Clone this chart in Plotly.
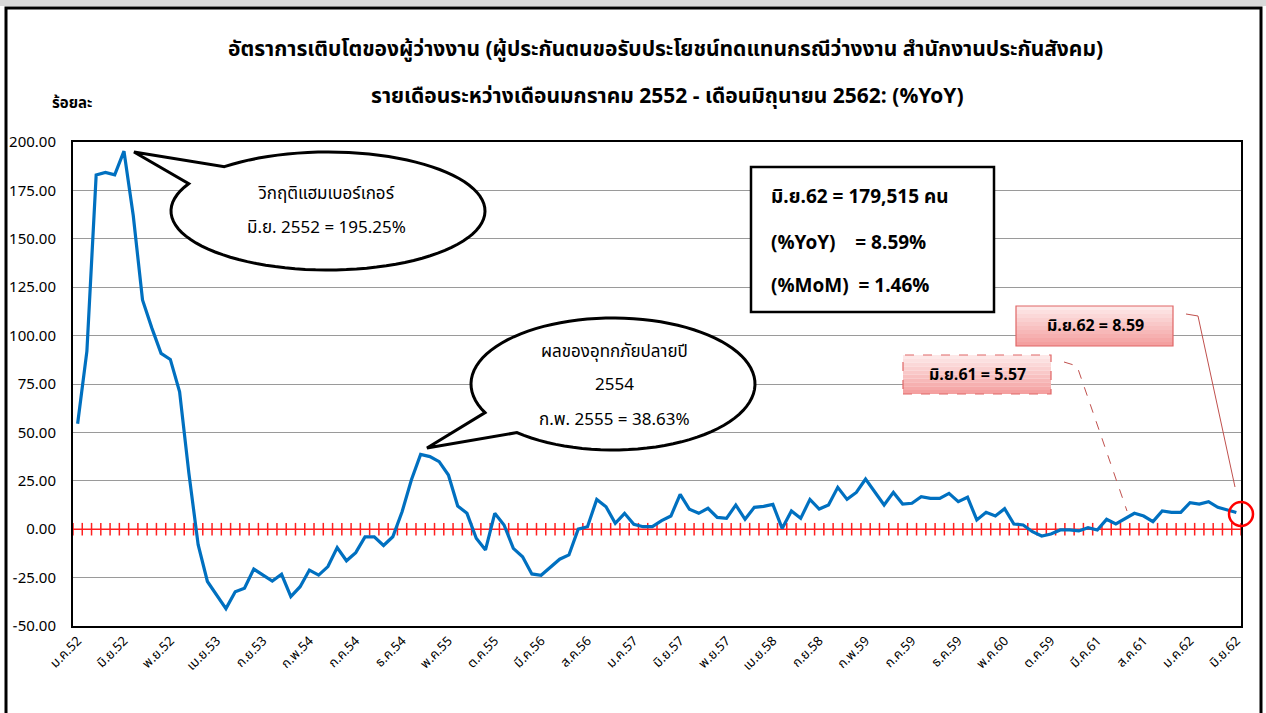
import math
import plotly.graph_objects as go

# ---------------- data ----------------
yoy_values = [
    54.5, 92.0, 183.0, 184.3, 183.0, 195.25, 162.0, 118.4, 104.0, 90.8,
    87.7, 71.0, 29.0, -8.0, -27.0, -34.0, -41.0, -32.3, -30.5, -20.6,
    -23.7, -26.8, -23.3, -34.8, -29.7, -21.1, -23.7, -19.3, -9.5, -16.3,
    -12.1, -4.0, -4.0, -8.4, -3.9, 9.0, 25.4, 38.63, 37.5, 34.9,
    28.0, 12.0, 8.2, -4.7, -10.7, 8.2, 2.2, -9.9, -14.2, -23.1,
    -23.8, -19.7, -15.5, -13.3, 0.0, 1.3, 15.4, 11.6, 3.0, 8.2,
    2.5, 1.3, 1.3, 4.4, 6.8, 18.0, 10.3, 8.2, 10.8, 6.1,
    5.6, 12.5, 5.1, 11.3, 11.8, 12.8, 0.4, 9.4, 5.6, 15.4,
    10.4, 12.5, 21.6, 15.4, 19.0, 25.9, 19.4, 12.5, 19.0, 13.0,
    13.4, 16.8, 15.9, 15.9, 18.5, 14.2, 16.5, 4.8, 8.7, 6.8,
    10.6, 2.7, 2.2, -1.3, -3.5, -2.5, -0.4, -0.4, -0.9, 0.8,
    -0.4, 5.1, 2.7, 5.57, 8.2, 6.8, 3.9, 9.4, 8.7, 8.7,
    13.7, 13.0, 14.2, 11.3, 9.9, 8.59,
]
tick_labels = [
    "ม.ค.52", "มิ.ย.52", "พ.ย.52", "เม.ย.53", "ก.ย.53", "ก.พ.54", "ก.ค.54",
    "ธ.ค.54", "พ.ค.55", "ต.ค.55", "มี.ค.56", "ส.ค.56", "ม.ค.57", "มิ.ย.57",
    "พ.ย.57", "เม.ย.58", "ก.ย.58", "ก.พ.59", "ก.ค.59", "ธ.ค.59", "พ.ค.60",
    "ต.ค.59", "มี.ค.61", "ส.ค.61", "ม.ค.62", "มิ.ย.62",
]
tick_step = 5

title_1 = "อัตราการเติบโตของผู้ว่างงาน (ผู้ประกันตนขอรับประโยชน์ทดแทนกรณีว่างงาน สำนักงานประกันสังคม)"
title_2 = "รายเดือนระหว่างเดือนมกราคม 2552 - เดือนมิถุนายน 2562: (%YoY)"
y_unit = "ร้อยละ"
bubble1_lines = ["วิกฤติแฮมเบอร์เกอร์", "มิ.ย. 2552 = 195.25%"]
bubble2_lines = ["ผลของอุทกภัยปลายปี", "2554", "ก.พ. 2555 = 38.63%"]
info_lines = ["มิ.ย.62 = 179,515 คน", "(%YoY)    = 8.59%", "(%MoM)  = 1.46%"]
label_62 = "มิ.ย.62 = 8.59"
label_61 = "มิ.ย.61 = 5.57"

# ---------------- geometry helpers ----------------
WIDTH, HEIGHT = 1266, 713
L, R, T, B = 73, 1241, 142, 626
PW, PH = R - L, B - T

def px(x):
    return (x - L) / PW

def py(y):
    return (B - y) / PH

FONT = "Tahoma, 'Leelawadee UI', 'Noto Sans Thai', 'Noto Sans', 'DejaVu Sans', sans-serif"

n = len(yoy_values)
xs = list(range(n))
tick_vals = list(range(0, n, tick_step))
bounds = [i - 0.5 for i in range(n + 1)]

fig = go.Figure()
# red zero line with crossing ticks (category axis crossing at 0)
fig.add_trace(go.Scatter(
    x=bounds, y=[0] * len(bounds), mode="lines+markers",
    line=dict(color="#FF2020", width=1.5),
    marker=dict(symbol="line-ns", size=9, line=dict(color="#FF2020", width=1.5)),
    hoverinfo="skip",
))
fig.add_trace(go.Scatter(
    x=xs, y=yoy_values, mode="lines",
    line=dict(color="#0070C0", width=3.2),
))

shapes = []
annotations = []

# outer frame
shapes.append(dict(type="rect", xref="paper", yref="paper",
                   x0=px(0), x1=px(WIDTH), y0=py(6), y1=py(0),
                   fillcolor="#d9d9d9", line=dict(width=0), layer="below"))
shapes.append(dict(type="rect", xref="paper", yref="paper",
                   x0=px(6), x1=px(1261), y0=py(725), y1=py(8),
                   line=dict(color="black", width=3), layer="above"))

def bubble_path(cx, cy, rx, ry, a_from, a_to, tip, steps=90):
    pts = []
    for k in range(steps + 1):
        a = math.radians(a_from + (a_to - a_from) * k / steps)
        pts.append((cx + rx * math.cos(a), cy + ry * math.sin(a)))
    pts.append(tip)
    return "M " + " L ".join(f"{px(x):.5f},{py(y):.5f}" for x, y in pts) + " Z"

# bubble 1
shapes.append(dict(type="path", xref="paper", yref="paper",
                   path=bubble_path(328, 211, 157, 59, -131.3, 207.5, (134, 152)),
                   fillcolor="white", line=dict(color="black", width=3), layer="above"))
# bubble 2
shapes.append(dict(type="path", xref="paper", yref="paper",
                   path=bubble_path(613, 384, 142, 66, 154.3, 492.6, (427, 448)),
                   fillcolor="white", line=dict(color="black", width=3), layer="above"))

# info box
shapes.append(dict(type="rect", xref="paper", yref="paper",
                   x0=px(751), x1=px(994), y0=py(312), y1=py(167),
                   fillcolor="white", line=dict(color="black", width=2.5), layer="above"))

# gradient label boxes
def grad_box(x0, x1, y0, y1, dash):
    bands = 10
    top = (253, 232, 232)
    bot = (244, 160, 160)
    for k in range(bands):
        t = k / (bands - 1)
        c = tuple(int(top[j] + (bot[j] - top[j]) * t) for j in range(3))
        ya = y0 + (y1 - y0) * k / bands
        yb = y0 + (y1 - y0) * (k + 1) / bands
        shapes.append(dict(type="rect", xref="paper", yref="paper",
                           x0=px(x0), x1=px(x1), y0=py(yb), y1=py(ya),
                           fillcolor=f"rgb{c}", line=dict(width=0), layer="above"))
    shapes.append(dict(type="rect", xref="paper", yref="paper",
                       x0=px(x0), x1=px(x1), y0=py(y1), y1=py(y0),
                       line=dict(color="#E06666", width=1.2, dash=dash), layer="above"))

grad_box(1016, 1173, 306, 346, "solid")
grad_box(903, 1051, 355, 394, "dash")

def poly(points, dash, color="#C0504D"):
    d = "M " + " L ".join(f"{px(x):.5f},{py(y):.5f}" for x, y in points)
    shapes.append(dict(type="path", xref="paper", yref="paper", path=d,
                       line=dict(color=color, width=1, dash=dash), layer="above"))

poly([(1186, 314), (1198, 316), (1235, 487)], "solid")
poly([(1064, 362), (1077, 366), (1127, 511)], "dash")

# red circle on the last point
shapes.append(dict(type="circle", xref="paper", yref="paper",
                   x0=px(1229), x1=px(1253), y0=py(526), y1=py(502),
                   line=dict(color="#FF0000", width=2.5), layer="above"))

def text(xp, yp, s, size, bold=False, xanchor="center"):
    annotations.append(dict(
        xref="paper", yref="paper", x=px(xp), y=py(yp), text=(f"<b>{s}</b>" if bold else s),
        showarrow=False, xanchor=xanchor, yanchor="middle",
        font=dict(family=FONT, size=size, color="black"),
    ))

text(665, 49, title_1, 21, bold=True)
text(667, 96, title_2, 21, bold=True)
text(72, 104, y_unit, 15, bold=True)
text(326, 194, bubble1_lines[0], 17)
text(326, 228, bubble1_lines[1], 17)
text(614, 352, bubble2_lines[0], 17)
text(614, 385, bubble2_lines[1], 17)
text(614, 420, bubble2_lines[2], 17)
text(769, 198, info_lines[0], 19, bold=True, xanchor="left")
text(769, 243, info_lines[1], 19, bold=True, xanchor="left")
text(769, 286, info_lines[2], 19, bold=True, xanchor="left")
text(1095, 326, label_62, 16, bold=True)
text(977, 375, label_61, 16, bold=True)

fig.update_layout(
    width=WIDTH, height=HEIGHT,
    margin=dict(l=L, r=WIDTH - R, t=T, b=HEIGHT - B, pad=0, autoexpand=False),
    paper_bgcolor="white", plot_bgcolor="white",
    showlegend=False,
    font=dict(family=FONT, color="black"),
    shapes=shapes, annotations=annotations,
    xaxis=dict(
        range=[-0.5, n - 0.5], tickmode="array", tickvals=tick_vals, ticktext=tick_labels,
        tickangle=-45, showgrid=False, zeroline=False, ticks="",
        showline=True, linecolor="black", linewidth=2, mirror=True, automargin=False,
        tickfont=dict(family=FONT, size=13, color="black"),
    ),
    yaxis=dict(
        range=[-50, 200], tick0=-50, dtick=25, tickformat=".2f",
        showgrid=True, gridcolor="#9a9a9a", gridwidth=1.2, zeroline=False, ticks="",
        showline=True, linecolor="black", linewidth=2, mirror=True, automargin=False,
        tickfont=dict(family=FONT, size=15, color="black"),
        ticklabelstandoff=12,
    ),
)

fig.write_html("out.html", config={"displayModeBar": False},
               post_script="document.body.style.margin='0px';")
